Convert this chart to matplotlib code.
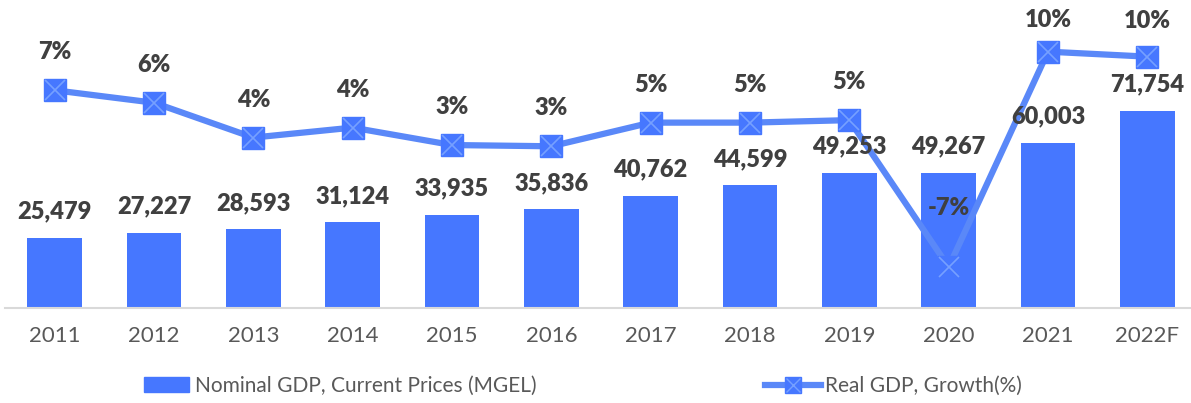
import matplotlib
matplotlib.use('Agg')
from matplotlib import pyplot as plt
from matplotlib.patches import Patch
from matplotlib.lines import Line2D

years = ['2011', '2012', '2013', '2014', '2015', '2016', '2017', '2018', '2019', '2020', '2021', '2022F']
nominal_gdp = [25479, 27227, 28593, 31124, 33935, 35836, 40762, 44599, 49253, 49267, 60003, 71754]
real_growth = [7.4, 6.4, 3.6, 4.4, 3.0, 2.9, 4.8, 4.8, 5.0, -6.8, 10.5, 10.1]

bar_color = '#4677FF'
line_color = '#5A88F8'
x_color = '#76A0FF'
label_color = '#404040'
tick_color = '#595959'

plt.rcParams['font.family'] = ['Lato', 'DejaVu Sans']

W, H = 1191, 403
fig = plt.figure(figsize=(W / 100, H / 100), dpi=100)
ax = fig.add_axes([5 / W, 95 / H, 1192 / W, 308 / H])
ax2 = ax.twinx()

x = list(range(len(years)))
ax.bar(x, nominal_gdp, width=0.55, color=bar_color, zorder=2)
ax.set_xlim(-0.5, len(years) - 0.5)
ax.set_ylim(0, 112000)
ax.set_yticks([])
for s in ['top', 'right', 'left']:
    ax.spines[s].set_visible(False)
ax.spines['bottom'].set_color('#D9D9D9')
ax.spines['bottom'].set_linewidth(1.5)
ax.set_xticks(x)
ax.set_xticklabels(years, fontsize=16, color=tick_color)
ax.tick_params(axis='x', length=0, pad=13)

ax2.plot(x, real_growth, color=line_color, lw=4.5, zorder=3)
ax2.plot(x, real_growth, ls='none', marker='s', ms=15.5, mfc=bar_color, mec=bar_color, zorder=4)
ax2.plot(x, real_growth, ls='none', marker='x', ms=14, mew=1.2, color=x_color, zorder=5)
ax2.set_ylim(-10.09, 14.65)
ax2.set_yticks([])
for s in ['top', 'right', 'left', 'bottom']:
    ax2.spines[s].set_visible(False)

# bar labels go on ax2 so they sit over the line
for xi, v in zip(x, nominal_gdp):
    ax2.annotate(f'{v:,}', (xi, v), xycoords=ax.transData, xytext=(0, 19), textcoords='offset points',
                 ha='center', va='center', fontsize=17, fontweight='heavy', color=label_color, zorder=6)

# label offsets in pixels above the marker (Excel nudges a few)
offsets = {9: 59, 10: 32, 11: 36}
for xi, v in zip(x, real_growth):
    off = offsets.get(xi, 38) * 0.72
    ax2.annotate(f'{round(v):.0f}%', (xi, v), xytext=(0, off), textcoords='offset points',
                 ha='center', va='center', fontsize=17, fontweight='heavy', color=label_color,
                 annotation_clip=False, zorder=6)

h1 = Patch(color=bar_color)
h2 = (Line2D([], [], color=line_color, lw=4.5),
      Line2D([], [], ls='none', marker='s', ms=11, mfc=bar_color, mec=bar_color),
      Line2D([], [], ls='none', marker='x', ms=10, mew=1, color=x_color))
fig.legend([h1], ['Nominal GDP, Current Prices (MGEL)'], loc='center left',
           bbox_to_anchor=(144 / W, 1 - 386 / H), frameon=False, fontsize=15,
           handlelength=2.15, handleheight=0.7, handletextpad=0.3, borderpad=0, borderaxespad=0,
           labelcolor=tick_color)
fig.legend([h2], ['Real GDP, Growth(%)'], loc='center left',
           bbox_to_anchor=(765 / W, 1 - 386 / H), frameon=False, fontsize=15,
           handlelength=2.7, handletextpad=0.2, borderpad=0, borderaxespad=0,
           labelcolor=tick_color)

fig.savefig('out.png', dpi=100)
